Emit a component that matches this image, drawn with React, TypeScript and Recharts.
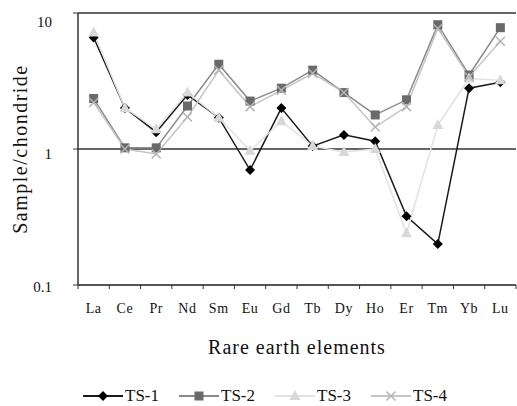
import { CartesianGrid, Legend, Line, LineChart, XAxis, YAxis } from 'recharts'

const ELEMENTS = ['La', 'Ce', 'Pr', 'Nd', 'Sm', 'Eu', 'Gd', 'Tb', 'Dy', 'Ho', 'Er', 'Tm', 'Yb', 'Lu']
const TS1 = [6.6, 2.0, 1.33, 2.5, 1.7, 0.7, 2.0, 1.05, 1.27, 1.14, 0.32, 0.2, 2.8, 3.1]
const TS2 = [2.35, 1.02, 1.02, 2.07, 4.2, 2.25, 2.8, 3.8, 2.6, 1.78, 2.3, 8.2, 3.5, 7.8]
const TS3 = [7.2, 2.0, 1.4, 2.6, 1.7, 0.97, 1.6, 1.05, 0.95, 1.0, 0.24, 1.5, 3.3, 3.2]
const TS4 = [2.2, 1.0, 0.92, 1.72, 3.8, 2.05, 2.7, 3.6, 2.6, 1.45, 2.05, 7.7, 3.4, 6.2]
const Y_TICKS = [0.1, 1, 10]

const FONT = '"Liberation Serif", "Times New Roman", serif'
const W = 517
const H = 406
const PLOT_LEFT = 78
const PLOT_RIGHT = 516
const BAND = (PLOT_RIGHT - PLOT_LEFT) / ELEMENTS.length

const SERIES = [
  { key: 'TS-1', values: TS1, line: '#1a1a1a', fill: '#000000', shape: 'diamond' },
  { key: 'TS-2', values: TS2, line: '#8a8a8a', fill: '#6a6a6a', shape: 'square' },
  { key: 'TS-3', values: TS3, line: '#e2e2e2', fill: '#d8d8d8', shape: 'triangle' },
  { key: 'TS-4', values: TS4, line: '#c4c4c4', fill: '#b4b4b4', shape: 'cross' },
]

const data = ELEMENTS.map((el, i) => {
  const row: Record<string, string | number> = { el }
  SERIES.forEach((s) => (row[s.key] = s.values[i]))
  return row
})

function Marker({ cx, cy, shape, color }: { cx: number; cy: number; shape: string; color: string }) {
  if (cx == null || cy == null) return null
  if (shape === 'diamond')
    return <polygon points={`${cx},${cy - 5} ${cx + 5},${cy} ${cx},${cy + 5} ${cx - 5},${cy}`} fill={color} />
  if (shape === 'square') return <rect x={cx - 4.5} y={cy - 4.5} width={9} height={9} fill={color} />
  if (shape === 'triangle')
    return <polygon points={`${cx},${cy - 6} ${cx + 5.5},${cy + 4} ${cx - 5.5},${cy + 4}`} fill={color} />
  return (
    <g stroke={color} strokeWidth={1.5}>
      <line x1={cx - 4.5} y1={cy - 4.5} x2={cx + 4.5} y2={cy + 4.5} />
      <line x1={cx - 4.5} y1={cy + 4.5} x2={cx + 4.5} y2={cy - 4.5} />
    </g>
  )
}

function XTick({ x, y, payload, index }: any) {
  const last = index === ELEMENTS.length - 1
  return (
    <g>
      <line x1={x - BAND / 2} x2={x - BAND / 2} y1={y} y2={y + 4} stroke="#333" />
      {last && <line x1={x + BAND / 2} x2={x + BAND / 2} y1={y} y2={y + 4} stroke="#333" />}
      <text x={x} y={y + 28} textAnchor="middle" fontSize={14} fontFamily={FONT} fill="#111" letterSpacing={0.6}>
        {payload.value}
      </text>
    </g>
  )
}

function YTick({ x, y, payload }: any) {
  const nudge: Record<string, number> = { '10': 9, '1': 5, '0.1': 2 }
  return (
    <text x={x} y={y + (nudge[String(payload.value)] ?? 0)} dy="0.35em" textAnchor="end" fontSize={15} fontFamily={FONT} fill="#111">
      {payload.value}
    </text>
  )
}

function LegendContent() {
  return (
    <div
      style={{
        height: 24,
        display: 'flex',
        alignItems: 'center',
        justifyContent: 'center',
        gap: 20,
        paddingLeft: 14,
        fontFamily: FONT,
        transform: 'translateY(2px)',
      }}
    >
      {SERIES.map((s) => (
        <div key={s.key} style={{ display: 'flex', alignItems: 'center', height: 20 }}>
          <svg width={40} height={20}>
            <line x1={0} x2={40} y1={10} y2={10} stroke={s.line} strokeWidth={2} />
            <Marker cx={20} cy={10} shape={s.shape} color={s.fill} />
          </svg>
          <span style={{ fontSize: 17, lineHeight: '20px', color: '#111', marginLeft: 2 }}>{s.key}</span>
        </div>
      ))}
    </div>
  )
}

export default function App() {
  return (
    <div style={{ position: 'absolute', left: 0, top: 0, width: W, height: H, background: '#fff' }}>
      <LineChart width={W} height={H} data={data} margin={{ top: 13, right: W - PLOT_RIGHT, bottom: 0, left: 0 }}>
        <CartesianGrid vertical={false} stroke="#333" strokeWidth={1.5} />
        <XAxis
          dataKey="el"
          height={97}
          padding={{ left: BAND / 2, right: BAND / 2 }}
          tickSize={0}
          tickMargin={0}
          tickLine={false}
          tick={<XTick />}
          interval={0}
          axisLine={{ stroke: '#555', strokeWidth: 2 }}
          label={{ value: 'Rare earth elements', position: 'insideBottom', offset: 28, fontSize: 20, fontFamily: FONT, fill: '#111', letterSpacing: 1 }}
        />
        <YAxis
          scale="log"
          domain={[0.1, 10]}
          ticks={Y_TICKS}
          allowDataOverflow
          width={PLOT_LEFT}
          tickSize={5}
          tickMargin={21}
          tick={<YTick />}
          tickLine={{ stroke: '#333' }}
          axisLine={{ stroke: '#333', strokeWidth: 1.5 }}
          label={{
            value: 'Sample/chondride',
            angle: -90,
            position: 'insideLeft',
            offset: 20,
            style: { textAnchor: 'middle', fontSize: 20, fontFamily: FONT, fill: '#111', letterSpacing: 1.5 },
          }}
        />
        <Legend verticalAlign="bottom" content={<LegendContent />} />
        {SERIES.map((s) => (
          <Line
            key={s.key}
            dataKey={s.key}
            stroke={s.line}
            strokeWidth={1.5}
            isAnimationActive={false}
            dot={(p: any) => <Marker key={`${s.key}-${p.index}`} cx={p.cx} cy={p.cy} shape={s.shape} color={s.fill} />}
            activeDot={false}
          />
        ))}
      </LineChart>
    </div>
  )
}
